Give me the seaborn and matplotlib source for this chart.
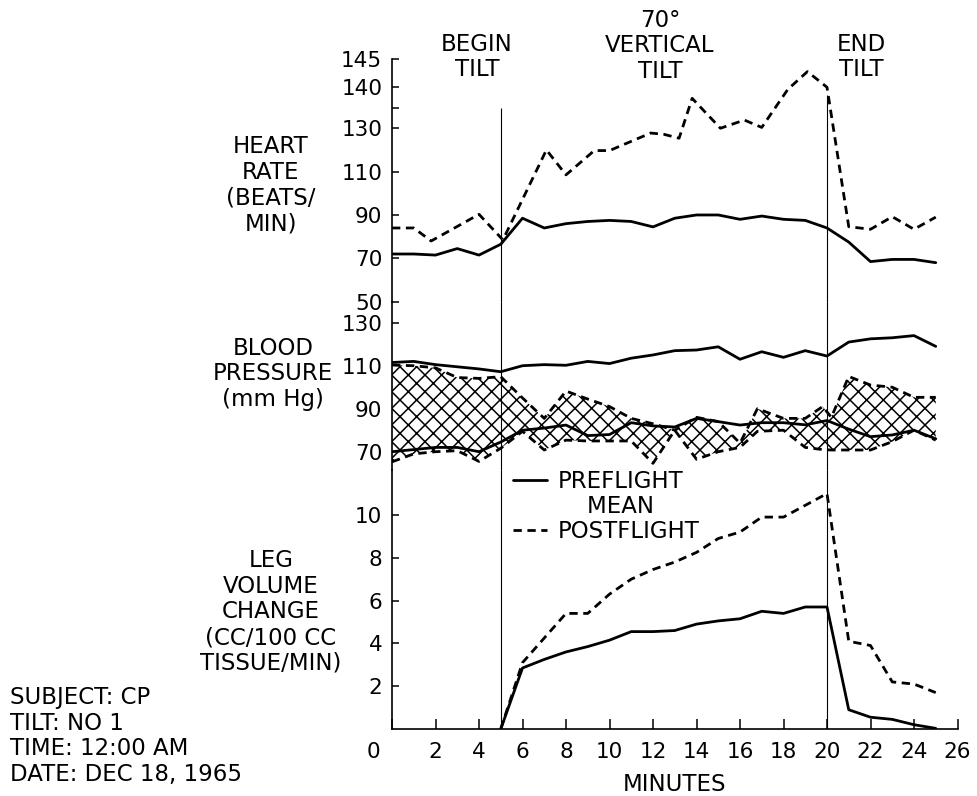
import numpy as np
import matplotlib
matplotlib.use("Agg")
import matplotlib.pyplot as plt
import matplotlib.transforms as mtransforms
from matplotlib.lines import Line2D
import seaborn as sns

# ---------------- data ----------------
minute_ticks = list(range(0, 27, 2))
tilt_start, tilt_end = 5, 20

# heart rate (beats/min)
hr_pre_t = list(range(0, 26))
hr_pre = [72, 72, 71.5, 74.5, 71.5, 76.5, 88.5, 84, 86, 87, 87.5, 87, 84.5,
          88.5, 90, 90, 88, 89.5, 88, 87.5, 84, 77.5, 68.5, 69.5, 69.5, 68]
hr_post_t = [0, 1, 1.8, 4, 5.1, 7.1, 8, 9.3, 10, 11.9, 12.5, 13.2, 13.8, 15.1,
             16.2, 17, 18.2, 19.1, 20, 21, 22, 23, 24, 25]
hr_post = [84, 84, 78, 90.3, 78.5, 120, 108.5, 119.7, 119.7, 127.8, 127.2,
           125.4, 137.3, 130, 132, 130.2, 139.5, 142.8, 140, 84.6, 83.4, 89.2,
           83.4, 89]
hr_ticks = [50, 70, 90, 110, 130, 140, 145]

# blood pressure (mm Hg)
bp_pre_t = list(range(0, 26))
bp_pre_sys = [111.5, 112, 110.5, 109.5, 108.5, 107.2, 110, 110.5, 110.2, 112,
              111, 113.5, 115, 117, 117.3, 118.8, 113, 116.5, 113.9, 117,
              114.5, 121, 122.5, 123, 124, 119]
bp_pre_dia = [70, 71, 72, 72, 70, 74.5, 80, 81, 82.4, 77.5, 78, 83.5, 82,
              81.5, 85.5, 84, 82.4, 83.5, 83.5, 82.5, 84.5, 80.5, 77, 77.8,
              80, 76]
bp_post_t = [0, 1, 2, 3, 4, 5, 6, 7, 8, 9, 10, 11, 12, 13, 14, 15, 16, 16.8,
             18, 19, 19.8, 20.2, 21, 22, 23, 24, 25]
bp_post_sys = [110.3, 110, 109, 104.5, 104.1, 104.9, 95, 85.5, 98.2, 94.5, 91,
               85.5, 83, 80, 86, 84, 74, 90, 85.5, 85.5, 91, 86, 105, 101,
               100, 95.3, 95.3]
bp_post_dia = [65.3, 69, 70, 70.5, 65.5, 71.6, 79.5, 70.8, 75.4, 75, 75, 75,
               64.6, 80, 66.5, 70, 72, 79.5, 80, 72, 71, 70.8, 70.8, 70.8,
               74.7, 80, 75.4]
bp_ticks = [70, 90, 110, 130]

# leg volume change (cc/100 cc tissue/min)
leg_pre_t = [5, 6, 7, 8, 9, 10, 11, 12, 13, 14, 15, 16, 17, 18, 19, 20, 21,
             22, 23, 24, 25]
leg_pre = [0, 2.85, 3.25, 3.6, 3.85, 4.15, 4.55, 4.55, 4.6, 4.9, 5.05, 5.15,
           5.5, 5.4, 5.7, 5.7, 0.9, 0.55, 0.45, 0.2, 0.03]
leg_post_t = [5, 6, 8, 9, 10, 11, 12, 13, 14, 15, 16, 17, 18, 19, 20, 21, 22,
              23, 24, 25]
leg_post = [0, 3.1, 5.4, 5.4, 6.3, 7.0, 7.45, 7.8, 8.25, 8.9, 9.2, 9.9, 9.9,
            10.45, 11.0, 4.1, 3.9, 2.2, 2.1, 1.7]
leg_ticks = [2, 4, 6, 8, 10]

# ---------------- style ----------------
sns.set_style("ticks")
plt.rcParams["font.family"] = ["DejaVu Sans"]
plt.rcParams["hatch.linewidth"] = 1.1
plt.rcParams["hatch.color"] = "black"
for key in ("text.color", "axes.labelcolor", "xtick.color", "ytick.color",
            "axes.edgecolor"):
    plt.rcParams[key] = "black"

INK = "black"
LW = 2.0
DASH = (0, (3.0, 2.0))
TXT = 16.5
TICK = 15.5

W, H = 977, 796
fig = plt.figure(figsize=(W / 100, H / 100), dpi=100)


def fx(px):
    return px / W


def fy(py):
    return 1 - py / H


left, right = 392, 957.5
ax_hr = fig.add_axes([fx(left), fy(301.7), fx(right - left), (301.7 - 59.3) / H])
ax_bp = fig.add_axes([fx(left), fy(470), fx(right - left), (470 - 301.7) / H],
                     sharex=ax_hr)
ax_leg = fig.add_axes([fx(left), fy(729), fx(right - left), (729 - 470) / H],
                      sharex=ax_hr)

# heart-rate axis is stretched above 130
hr_knots = [0, 50, 130, 140, 145, 200]
hr_pos = [-50, 0, 80, 98.9, 111.8, 253.7]
ax_hr.set_yscale("function",
                 functions=(lambda v: np.interp(v, hr_knots, hr_pos),
                            lambda p: np.interp(p, hr_pos, hr_knots)))

# ---------------- heart rate ----------------
sns.lineplot(x=hr_pre_t, y=hr_pre, ax=ax_hr, color=INK, linewidth=LW)
sns.lineplot(x=hr_post_t, y=hr_post, ax=ax_hr, color=INK, linewidth=LW,
             linestyle=DASH)
ax_hr.vlines(tilt_start, 50, 135, color=INK, linewidth=0.8)
ax_hr.vlines(tilt_end, 50, 138, color=INK, linewidth=0.8)
ax_hr.set_ylim(50, 145)
ax_hr.set_yticks(hr_ticks)
ax_hr.set_yticks([135], minor=True)

# ---------------- blood pressure ----------------
ax_bp.fill_between(bp_post_t, bp_post_dia, bp_post_sys, facecolor="white",
                   edgecolor=INK, hatch="xx", linewidth=0)
sns.lineplot(x=bp_pre_t, y=bp_pre_sys, ax=ax_bp, color=INK, linewidth=LW)
sns.lineplot(x=bp_pre_t, y=bp_pre_dia, ax=ax_bp, color=INK, linewidth=LW)
sns.lineplot(x=bp_post_t, y=bp_post_sys, ax=ax_bp, color=INK, linewidth=LW,
             linestyle=DASH)
sns.lineplot(x=bp_post_t, y=bp_post_dia, ax=ax_bp, color=INK, linewidth=LW,
             linestyle=DASH)
for t in (tilt_start, tilt_end):
    ax_bp.axvline(t, color=INK, linewidth=0.8)
ax_bp.set_ylim(61.5, 139.77)
ax_bp.set_yticks(bp_ticks)

# ---------------- leg volume ----------------
sns.lineplot(x=leg_pre_t, y=leg_pre, ax=ax_leg, color=INK, linewidth=LW)
sns.lineplot(x=leg_post_t, y=leg_post, ax=ax_leg, color=INK, linewidth=LW,
             linestyle=DASH)
for t in (tilt_start, tilt_end):
    ax_leg.axvline(t, color=INK, linewidth=0.8)
ax_leg.set_ylim(0, 12.1)
ax_leg.set_yticks(leg_ticks)

ax_leg.set_xlim(0, 26)
ax_leg.set_xticks(minute_ticks)
ax_leg.set_xticklabels([str(m) for m in minute_ticks])

# ---------------- axes cosmetics ----------------
for ax in (ax_hr, ax_bp, ax_leg):
    ax.set_facecolor("none")
    ax.set_ylabel("")
    for side in ("top", "right"):
        ax.spines[side].set_visible(False)
    ax.spines["left"].set_linewidth(1.2)
    ax.tick_params(axis="y", which="both", direction="in", length=5,
                   width=1.1, pad=7, labelsize=TICK, colors=INK)
for ax in (ax_hr, ax_bp):
    ax.spines["bottom"].set_visible(False)
    ax.tick_params(axis="x", which="both", bottom=False, labelbottom=False)
    ax.set_xlabel("")
ax_leg.spines["bottom"].set_linewidth(1.2)
ax_leg.tick_params(axis="x", direction="in", length=7, width=1.1, pad=9,
                   labelsize=TICK, colors=INK)
ax_leg.xaxis.set_minor_locator(matplotlib.ticker.NullLocator())
ax_leg.set_xlabel("MINUTES", fontsize=TXT, labelpad=8, color=INK)

# origin label sits left of the corner
zero_lbl = ax_leg.get_xticklabels()[0]
zero_lbl.set_transform(zero_lbl.get_transform()
                       + mtransforms.ScaledTranslation(-0.19, 0, fig.dpi_scale_trans))

# ---------------- legend ----------------
handles = [Line2D([], [], color=INK, linewidth=LW),
           Line2D([], [], linestyle="none"),
           Line2D([], [], color=INK, linewidth=LW, linestyle=DASH)]
labels = ["PREFLIGHT", "    MEAN", "POSTFLIGHT"]
leg = ax_leg.legend(handles, labels, loc="upper left",
                    bbox_to_anchor=(fx(513), fy(470)),
                    bbox_transform=fig.transFigure,
                    frameon=False, fontsize=TXT, borderpad=0, borderaxespad=0,
                    handlelength=1.5, handletextpad=0.45, labelspacing=0.08,
                    labelcolor=INK)

# ---------------- annotations ----------------
def label(x, y, s, ha="center", ls=1.15):
    fig.text(fx(x), fy(y), s, ha=ha, va="center", multialignment=ha,
             fontsize=TXT, linespacing=ls, color=INK)


label(477, 57, "BEGIN\nTILT")
label(660, 46, "70°\nVERTICAL\nTILT")
label(861, 57, "END\nTILT")
label(271, 185, "HEART\nRATE\n(BEATS/\nMIN)")
label(273, 374, "BLOOD\nPRESSURE\n(mm Hg)")
label(271, 612, "LEG\nVOLUME\nCHANGE\n(CC/100 CC\nTISSUE/MIN)")
label(10, 736, "SUBJECT: CP\nTILT: NO 1\nTIME: 12:00 AM\nDATE: DEC 18, 1965",
      ha="left")

fig.savefig("out.png", dpi=100)
